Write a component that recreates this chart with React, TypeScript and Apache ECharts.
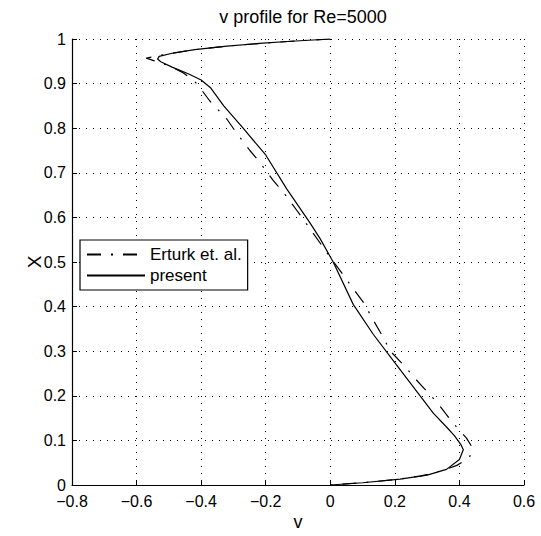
import React, { useEffect, useRef } from "react";
import * as echarts from "echarts";

const xTicks = [-0.8, -0.6, -0.4, -0.2, 0, 0.2, 0.4, 0.6];
const yTicks = [0, 0.1, 0.2, 0.3, 0.4, 0.5, 0.6, 0.7, 0.8, 0.9, 1];

// present (solid): [v, X]
const presentV = [0, -0.12, -0.22, -0.32, -0.42, -0.49, -0.53, -0.535, -0.525, -0.49, -0.44, -0.4, -0.37, -0.33, -0.27, -0.2, -0.135, -0.065, -0.032, 0.009, 0.071, 0.133, 0.195, 0.257, 0.319, 0.36, 0.385, 0.405, 0.412, 0.4, 0.36, 0.3, 0.216, 0.1, 0];
const presentX = [1, 0.995, 0.99, 0.984, 0.976, 0.968, 0.961, 0.955, 0.949, 0.937, 0.922, 0.908, 0.89, 0.85, 0.8, 0.74, 0.664, 0.59, 0.553, 0.5, 0.405, 0.338, 0.279, 0.22, 0.161, 0.13, 0.11, 0.09, 0.079, 0.057, 0.035, 0.022, 0.013, 0.005, 0];

// Erturk et. al. (dash-dot): [v, X]
const erturkV = [0, -0.12, -0.22, -0.32, -0.42, -0.5, -0.55, -0.57, -0.54, -0.5, -0.455, -0.42, -0.4, -0.373, -0.32, -0.295, -0.249, -0.22, -0.177, -0.146, -0.104, -0.078, -0.027, 0.009, 0.035, 0.061, 0.107, 0.128, 0.164, 0.185, 0.237, 0.266, 0.317, 0.345, 0.368, 0.39, 0.422, 0.44, 0.431, 0.392, 0.357, 0.319, 0.278, 0.2, 0.1, 0];
const erturkX = [1, 0.995, 0.99, 0.984, 0.976, 0.967, 0.96, 0.957, 0.95, 0.94, 0.924, 0.905, 0.887, 0.861, 0.82, 0.794, 0.75, 0.725, 0.683, 0.657, 0.616, 0.59, 0.538, 0.501, 0.476, 0.45, 0.405, 0.376, 0.331, 0.301, 0.261, 0.236, 0.196, 0.172, 0.15, 0.131, 0.105, 0.084, 0.061, 0.044, 0.035, 0.027, 0.02, 0.012, 0.005, 0];

const FONT = "Liberation Sans, Arial, Helvetica, sans-serif";

function fmt(v: number): string {
  if (Math.abs(v) < 1e-9) return "0";
  const s = Math.abs(v - Math.round(v)) < 1e-9 ? String(Math.round(v)) : v.toFixed(1);
  return s.replace("-", "\u2212");
}

export default function App() {
  const ref = useRef<HTMLDivElement>(null);
  useEffect(() => {
    if (!ref.current) return;
    const chart = echarts.init(ref.current, null, { renderer: "svg" });
    const gridLine = { show: true, lineStyle: { color: "#000", width: 1, type: [1, 6] as any } };
    chart.setOption({
      animation: false,
      backgroundColor: "#fff",
      title: {
        text: "v profile for Re=5000",
        left: 298,
        textAlign: "center",
        top: 3,
        textStyle: { fontFamily: FONT, fontSize: 18, fontWeight: "normal", color: "#000" },
      },
      grid: { left: 72, right: 17, top: 39, bottom: 47 },
      legend: {
        left: 80,
        top: 240,
        orient: "vertical",
        backgroundColor: "#fff",
        borderColor: "#000",
        borderWidth: 1.2,
        borderRadius: 0,
        padding: [6, 6, 6, 6],
        itemWidth: 58,
        itemHeight: 16,
        itemGap: 4,
        itemStyle: { opacity: 0, borderWidth: 0 },
        textStyle: { fontFamily: FONT, fontSize: 17, color: "#000" },
        data: ["Erturk et. al.", "present"],
      },
      xAxis: {
        type: "value",
        min: -0.8,
        max: 0.6,
        interval: 0.2,
        name: "v",
        nameLocation: "middle",
        nameGap: 28,
        nameMoveOverlap: false,
        nameTextStyle: { fontFamily: FONT, fontSize: 18, color: "#000" },
        axisLine: { show: true, onZero: false, lineStyle: { color: "#000", width: 1.2 } },
        axisTick: { show: true, inside: true, length: 5, lineStyle: { color: "#000" } },
        axisLabel: { fontFamily: FONT, fontSize: 16, color: "#000", margin: 8, formatter: (v: number) => fmt(v) },
        splitLine: gridLine,
      },
      yAxis: {
        type: "value",
        min: 0,
        max: 1,
        interval: 0.1,
        name: "X",
        nameLocation: "middle",
        nameRotate: 90,
        nameGap: 28,
        nameMoveOverlap: false,
        nameTextStyle: { fontFamily: FONT, fontSize: 19, color: "#000" },
        axisLine: { show: true, onZero: false, lineStyle: { color: "#000", width: 1.2 } },
        axisTick: { show: true, inside: true, length: 5, lineStyle: { color: "#000" } },
        axisLabel: { fontFamily: FONT, fontSize: 16, color: "#000", margin: 6, formatter: (v: number) => fmt(v) },
        splitLine: gridLine,
      },
      series: [
        {
          name: "Erturk et. al.",
          type: "line",
          showSymbol: false,
          symbol: "none",
          data: erturkV.map((v, i) => [v, erturkX[i]]),
          lineStyle: { color: "#000", width: 1.2, type: [14, 10, 2, 10] as any },
          itemStyle: { color: "#000" },
          z: 3,
        },
        {
          name: "present",
          type: "line",
          showSymbol: false,
          symbol: "none",
          data: presentV.map((v, i) => [v, presentX[i]]),
          lineStyle: { color: "#000", width: 1.2 },
          itemStyle: { color: "#000" },
          z: 4,
        },
      ],
    });
    return () => chart.dispose();
  }, []);
  return <div ref={ref} style={{ width: 541, height: 536, position: "absolute", left: 0, top: 0 }} />;
}
